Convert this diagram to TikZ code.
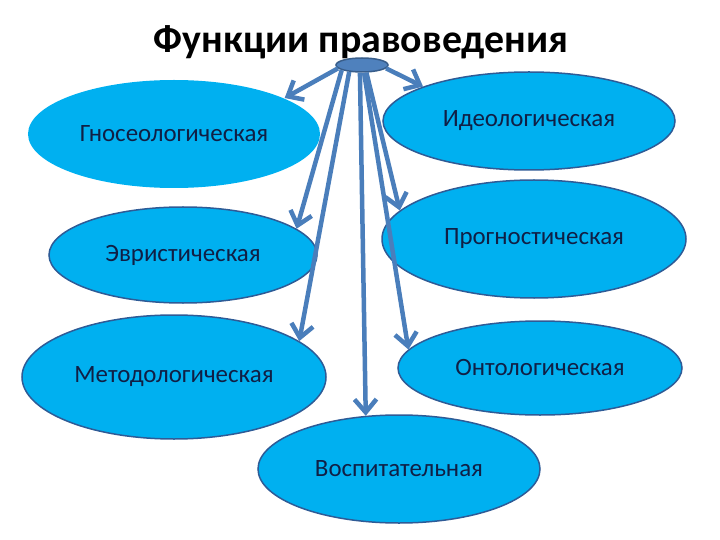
\documentclass[tikz,border=0pt]{standalone}
\usepackage{fontspec}
\setmainfont{Carlito}
\usepackage{tikz}
\usetikzlibrary{arrows.meta,shapes.geometric}
\definecolor{funcfill}{HTML}{00B0F0}
\definecolor{funcline}{HTML}{2E5B96}
\definecolor{arrblue}{HTML}{4A7EBB}
\definecolor{hubfill}{HTML}{4F81BD}
\definecolor{hubline}{HTML}{385D8A}
\definecolor{textnavy}{HTML}{101F45}

\begin{document}
\begin{tikzpicture}[
  x=1bp, y=-1bp,
  font=\fontsize{25}{30}\selectfont,
  func/.style={ellipse, fill=funcfill, draw=funcline, line width=1.5bp, inner sep=0pt, text=textnavy},
  arr/.style={-{Straight Barb[length=13bp,width=22bp]}, line width=4.5bp, arrblue}
]
\useasboundingbox (0,0) rectangle (720,540);
\node[font=\fontsize{40}{48}\selectfont\bfseries] (title) at (361,42) {Функции правоведения};
\node[func, draw=none, minimum width=292bp, minimum height=108bp] (gnos) at (174,134) {Гносеологическая};
\node[func, minimum width=292bp, minimum height=98bp] (ideo) at (529,121) {Идеологическая};
\node[func, minimum width=268bp, minimum height=96bp] (evr) at (183,255) {Эвристическая};
\node[func, minimum width=304bp, minimum height=118bp] (progn) at (534,239) {Прогностическая};
\node[func, minimum width=304bp, minimum height=124bp] (method) at (174,377) {Методологическая};
\node[func, minimum width=284bp, minimum height=94bp] (onto) at (540,368) {Онтологическая};
\node[func, minimum width=282bp, minimum height=108bp] (vosp) at (399,469) {Воспитательная};
\node[ellipse, fill=hubfill, draw=hubline, line width=1.5bp, minimum width=52bp, minimum height=14bp, inner sep=0pt] (hub) at (362,65) {};
\draw[arr] (hub.188) -- (gnos.18);
\draw[arr] (hub.-8) -- (ideo.162);
\draw[arr] (hub.194) -- (evr.13);
\draw[arr] (hub.208) -- (method.16);
\draw[arr] (hub.255) -- (vosp.122);
\draw[arr] (hub.285) -- (onto.172);
\draw[arr] (hub.300) -- (progn.168);
\end{tikzpicture}
\end{document}
